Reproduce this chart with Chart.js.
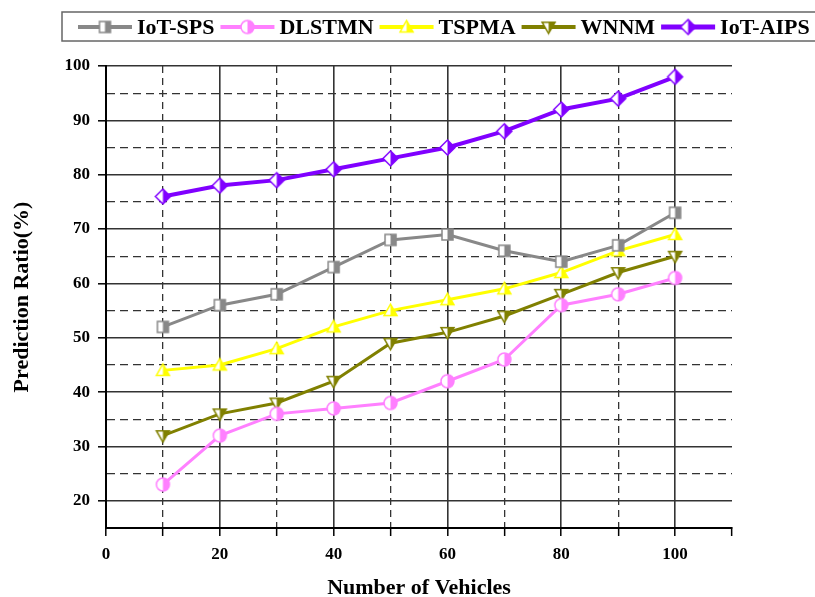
<!DOCTYPE html>
<html>
<head>
<meta charset="utf-8">
<script src="https://cdn.jsdelivr.net/npm/chart.js@4.4.0/dist/chart.umd.min.js"></script>
<style>
  html, body { margin: 0; padding: 0; background: #fff; }
</style>
</head>
<body>
<canvas id="chart" width="815" height="597"></canvas>
<script>
const vehicles = [10, 20, 30, 40, 50, 60, 70, 80, 90, 100];
const iotSps = [52, 56, 58, 63, 68, 69, 66, 64, 67, 73];
const dlstmn = [23, 32, 36, 37, 38, 42, 46, 56, 58, 61];
const tspma = [44, 45, 48, 52, 55, 57, 59, 62, 66, 69];
const wnnm = [32, 36, 38, 42, 49, 51, 54, 58, 62, 65];
const iotAips = [76, 78, 79, 81, 83, 85, 88, 92, 94, 98];

const serif = '"Liberation Serif", "Times New Roman", serif';

// half-open marker: left half white, right half filled
function makeMarker(shape, color, size) {
  const c = document.createElement('canvas');
  c.width = c.height = size + 4;
  const g = c.getContext('2d');
  const m = c.width / 2, r = size / 2;
  const path = () => {
    g.beginPath();
    if (shape === 'square') g.rect(m - r + 1, m - r + 1, size - 2, size - 2);
    else if (shape === 'circle') g.arc(m, m, r, 0, Math.PI * 2);
    else if (shape === 'up') { g.moveTo(m, m - r); g.lineTo(m + r, m + r * 0.75); g.lineTo(m - r, m + r * 0.75); g.closePath(); }
    else if (shape === 'down') { g.moveTo(m, m + r); g.lineTo(m + r, m - r * 0.75); g.lineTo(m - r, m - r * 0.75); g.closePath(); }
    else { g.moveTo(m, m - r); g.lineTo(m + r, m); g.lineTo(m, m + r); g.lineTo(m - r, m); g.closePath(); }
  };
  path(); g.fillStyle = '#fff'; g.fill();
  g.save(); g.beginPath(); g.rect(m, 0, c.width, c.height); g.clip();
  path(); g.fillStyle = color; g.fill(); g.restore();
  path(); g.strokeStyle = color; g.lineWidth = 1.5; g.stroke();
  return c;
}

function series(label, values, color, shape, width) {
  return {
    label: label,
    data: vehicles.map((v, i) => ({ x: v, y: values[i] })),
    borderColor: color,
    backgroundColor: color,
    borderWidth: width,
    pointStyle: makeMarker(shape, color, shape === 'diamond' ? 15 : 13),
    pointRadius: 6,
    pointHoverRadius: 6,
    tension: 0
  };
}

const boxLegend = {
  id: 'boxLegend',
  afterDraw(chart) {
    const g = chart.ctx;
    g.save();
    g.strokeStyle = '#666';
    g.lineWidth = 1.5;
    g.strokeRect(62, 12, 780, 29);
    g.font = 'bold 22px ' + serif;
    g.textBaseline = 'middle';
    const y = 27;
    let x = 78;
    chart.data.datasets.forEach(ds => {
      g.strokeStyle = ds.borderColor;
      g.lineWidth = ds.borderWidth + 1;
      g.beginPath(); g.moveTo(x, y); g.lineTo(x + 54, y); g.stroke();
      const img = ds.pointStyle;
      g.drawImage(img, x + 27 - img.width / 2, y - img.height / 2);
      x += 59;
      g.fillStyle = '#000';
      g.fillText(ds.label, x, y + 1);
      x += g.measureText(ds.label).width + 6;
    });
    g.restore();
  }
};

new Chart(document.getElementById('chart'), {
  type: 'line',
  data: {
    datasets: [
      series('IoT-SPS', iotSps, '#888888', 'square', 3),
      series('DLSTMN', dlstmn, '#ff80ff', 'circle', 3),
      series('TSPMA', tspma, '#ffff00', 'up', 3),
      series('WNNM', wnnm, '#808000', 'down', 3),
      series('IoT-AIPS', iotAips, '#8000ff', 'diamond', 4)
    ]
  },
  plugins: [boxLegend],
  options: {
    responsive: false,
    animation: false,
    layout: { padding: { top: 66, right: 83, left: 0, bottom: 0 } },
    plugins: { legend: { display: false }, tooltip: { enabled: false } },
    scales: {
      x: {
        type: 'linear',
        min: 0,
        max: 110,
        afterFit: s => { s.height = 69; },
        ticks: {
          stepSize: 10,
          padding: 8,
          color: '#000',
          font: { family: serif, size: 17, weight: 'bold' },
          callback: v => (v % 20 === 0 && v <= 100) ? v : ''
        },
        grid: {
          color: c => (c.tick && (c.tick.value === 0 || c.tick.value === 110)) ? 'rgba(0,0,0,0)' : '#333',
          lineWidth: c => (c.tick && c.tick.value % 20 === 0) ? 1.6 : 1.3,
          tickColor: '#000',
          tickLength: 8,
          tickWidth: 1.5
        },
        border: {
          color: '#000',
          width: 2,
          dash: c => (c.tick && c.tick.value % 20 !== 0) ? [7, 5] : []
        },
        title: {
          display: true,
          text: 'Number of Vehicles',
          color: '#000',
          font: { family: serif, size: 22, weight: 'bold', lineHeight: 1 },
          padding: { top: 0, bottom: -2 }
        }
      },
      y: {
        min: 15,
        max: 100,
        afterFit: s => { s.width = 106; },
        ticks: {
          stepSize: 5,
          padding: 8,
          color: '#000',
          font: { family: serif, size: 17, weight: 'bold' },
          callback: v => (v % 10 === 0 && v >= 20) ? v : ''
        },
        grid: {
          color: c => (c.tick && c.tick.value === 15) ? 'rgba(0,0,0,0)' : '#333',
          lineWidth: c => (c.tick && c.tick.value % 10 === 0) ? 1.6 : 1.3,
          tickColor: c => (c.tick && c.tick.value % 10 === 0) ? '#000' : 'rgba(0,0,0,0)',
          tickLength: 8,
          tickWidth: 1.5
        },
        border: {
          color: '#000',
          width: 2,
          dash: c => (c.tick && c.tick.value % 10 !== 0) ? [8, 5] : []
        },
        title: {
          display: true,
          text: 'Prediction Ratio(%)',
          color: '#000',
          font: { family: serif, size: 22, weight: 'bold', lineHeight: 1 },
          padding: { top: 11, bottom: 0 }
        }
      }
    }
  }
});
</script>
</body>
</html>
